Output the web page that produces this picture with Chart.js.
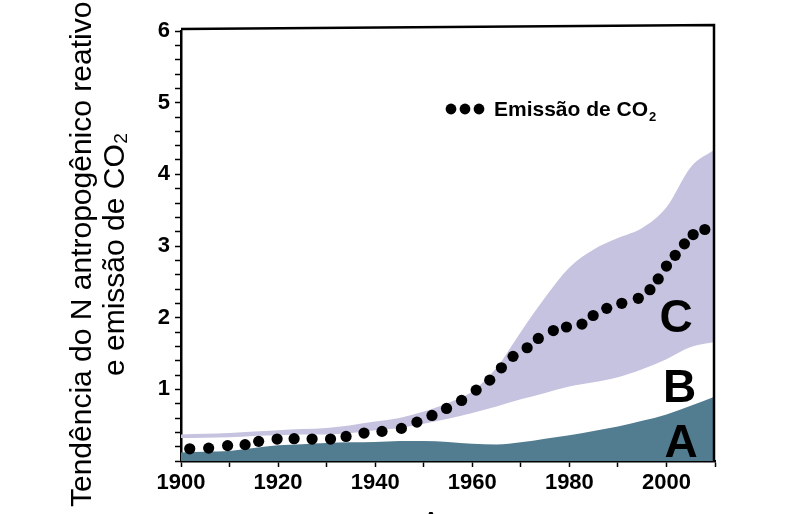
<!DOCTYPE html>
<html>
<head>
<meta charset="utf-8">
<script src="https://cdn.jsdelivr.net/npm/chart.js@4.4.1/dist/chart.umd.min.js"></script>
<style>
  html, body { margin: 0; padding: 0; background: #fff; }
  #wrap { width: 787px; height: 514px; }
</style>
</head>
<body>
<div id="wrap"><canvas id="nChart"></canvas></div>
<script>
// Years sampled for the three N bands
const years = [1900, 1905, 1910, 1915, 1920, 1925, 1930, 1935, 1940, 1945, 1950, 1955,
               1960, 1965, 1970, 1975, 1980, 1985, 1990, 1995, 2000, 2005, 2010];
// Upper edge of each band (A = teal, B = white, C = lavender)
const bandA = [0.12, 0.13, 0.14, 0.18, 0.22, 0.235, 0.25, 0.26, 0.265, 0.28, 0.28, 0.265,
               0.24, 0.23, 0.26, 0.31, 0.36, 0.42, 0.48, 0.56, 0.65, 0.77, 0.9];
const bandB = [0.32, 0.325, 0.33, 0.35, 0.36, 0.37, 0.37, 0.39, 0.43, 0.46, 0.52, 0.59,
               0.67, 0.76, 0.86, 0.95, 1.04, 1.1, 1.17, 1.28, 1.42, 1.59, 1.66];
const bandC = [0.37, 0.38, 0.39, 0.41, 0.43, 0.445, 0.46, 0.5, 0.55, 0.6, 0.69, 0.81,
               0.97, 1.3, 1.8, 2.28, 2.7, 2.95, 3.11, 3.25, 3.54, 4.1, 4.35];

// CO2 emission dots
const co2Years = [1901.8, 1905.7, 1909.6, 1913.2, 1916, 1919.8, 1923.3, 1927, 1930.8, 1934, 1937.7,
                  1941.4, 1945.4, 1948.6, 1951.7, 1954.7, 1957.8, 1960.8, 1963.6, 1966, 1968.4,
                  1971.3, 1973.6, 1976.7, 1979.4, 1982.6, 1984.9, 1987.7, 1990.8, 1994.2, 1996.6,
                  1998.3, 2000, 2001.8, 2003.7, 2005.5, 2007.9];
const co2Values = [0.17, 0.18, 0.215, 0.228, 0.274, 0.306, 0.311, 0.306, 0.306, 0.343, 0.39,
                   0.413, 0.455, 0.543, 0.636, 0.733, 0.845, 0.989, 1.128, 1.3, 1.46,
                   1.58, 1.71, 1.82, 1.87, 1.91, 2.03, 2.13, 2.2, 2.27, 2.39,
                   2.54, 2.72, 2.87, 3.03, 3.16, 3.23];

const xTickLabels = [1900, 1920, 1940, 1960, 1980, 2000];
const yTickLabels = [1, 2, 3, 4, 5, 6];
const zoneNames = ['A', 'B', 'C'];
const legendText = 'Emissão de CO';

const TEAL = '#527d91';
const LAVENDER = '#c6c3e0';
const SANS = '"Liberation Sans", Arial, Helvetica, sans-serif';

const toPoints = (xs, ys) => xs.map((x, i) => ({ x: x, y: ys[i] }));

// Frame, zone letters and the legend drawn on top of the datasets
const decorations = {
    id: 'decorations',
    afterDatasetsDraw(chart) {
        const { ctx, chartArea, scales } = chart;
        const { left, right, top, bottom } = chartArea;
        const x = scales.x, y = scales.y;
        ctx.save();

        // top and right frame
        ctx.strokeStyle = '#000';
        ctx.lineWidth = 2.5;
        ctx.beginPath();
        ctx.moveTo(left, top - 2);
        ctx.lineTo(right - 1, top - 6);
        ctx.lineTo(right - 1, bottom);
        ctx.stroke();

        // zone letters
        ctx.fillStyle = '#000';
        ctx.font = 'bold 46px ' + SANS;
        ctx.textAlign = 'center';
        ctx.textBaseline = 'alphabetic';
        ctx.fillText(zoneNames[0], x.getPixelForValue(2003), y.getPixelForValue(0.06));
        ctx.fillText(zoneNames[1], x.getPixelForValue(2002.7), y.getPixelForValue(0.82));
        ctx.fillText(zoneNames[2], x.getPixelForValue(2002), y.getPixelForValue(1.8));

        // legend: three dots + label with subscript
        const ly = top + 78;
        [270, 284, 298].forEach(dx => {
            ctx.beginPath();
            ctx.arc(left + dx, ly, 5.4, 0, Math.PI * 2);
            ctx.fill();
        });
        ctx.textAlign = 'left';
        ctx.font = 'bold 21px ' + SANS;
        ctx.fillText(legendText, left + 313, top + 85);
        const w = ctx.measureText(legendText).width;
        ctx.font = 'bold 13px ' + SANS;
        ctx.fillText('2', left + 313 + w + 1, top + 90);
        ctx.restore();
    }
};

const ctx = document.getElementById('nChart').getContext('2d');
const nChart = new Chart(ctx, {
    type: 'line',
    data: {
        datasets: [
            {
                label: 'A',
                data: toPoints(years, bandA),
                backgroundColor: TEAL,
                borderWidth: 0,
                pointRadius: 0,
                fill: 'origin',
                order: 1,
                cubicInterpolationMode: 'monotone'
            },
            {
                label: 'B',
                data: toPoints(years, bandB),
                borderWidth: 0,
                pointRadius: 0,
                fill: false,
                order: 1,
                cubicInterpolationMode: 'monotone'
            },
            {
                label: 'C',
                data: toPoints(years, bandC),
                backgroundColor: LAVENDER,
                borderWidth: 0,
                pointRadius: 0,
                fill: '-1',
                order: 1,
                cubicInterpolationMode: 'monotone'
            },
            {
                label: 'Emissão de CO₂',
                data: toPoints(co2Years, co2Values),
                showLine: false,
                pointRadius: 5.6,
                pointBackgroundColor: '#000',
                pointBorderWidth: 0,
                order: 0
            }
        ]
    },
    options: {
        responsive: true,
        maintainAspectRatio: false,
        animation: false,
        layout: { padding: { left: 66, right: 72, top: 31, bottom: 0 } },
        plugins: {
            legend: { display: false },
            tooltip: { enabled: false }
        },
        scales: {
            x: {
                type: 'linear',
                min: 1900,
                max: 2010,
                afterFit: scale => { scale.height = 53; },
                ticks: {
                    stepSize: 10,
                    autoSkip: false,
                    maxRotation: 0,
                    padding: 3,
                    color: '#000',
                    font: { family: SANS, size: 22, weight: 'bold' },
                    callback: v => xTickLabels.includes(v) ? String(v) : ''
                },
                grid: { drawOnChartArea: false, tickLength: 6, tickColor: '#000', tickWidth: 1.5 },
                border: { color: '#000', width: 2.5 },
                title: {
                    display: true,
                    text: 'Ano',
                    color: '#000',
                    font: { family: SANS, size: 31 },
                    padding: { top: 0, bottom: -30 }
                }
            },
            y: {
                min: 0,
                max: 6,
                afterFit: scale => { scale.width = 115; },
                ticks: {
                    stepSize: 0.2,
                    autoSkip: false,
                    padding: 5,
                    color: '#000',
                    font: { family: SANS, size: 22, weight: 'bold' },
                    callback: v => {
                        const r = Math.round(v);
                        return Math.abs(v - r) < 1e-6 && yTickLabels.includes(r) ? String(r) : '';
                    }
                },
                grid: { drawOnChartArea: false, tickLength: 6, tickColor: '#000', tickWidth: 1.5 },
                border: { color: '#000', width: 2.5 },
                title: {
                    display: true,
                    // trailing spaces nudge the rotated lines down to match the original
                    text: ['Tendência do N antropogênico reativo  ', 'e emissão de CO₂  '],
                    color: '#000',
                    font: { family: SANS, size: 30, lineHeight: 1.11 },
                    padding: 0
                }
            }
        }
    },
    plugins: [decorations]
});
</script>
</body>
</html>
